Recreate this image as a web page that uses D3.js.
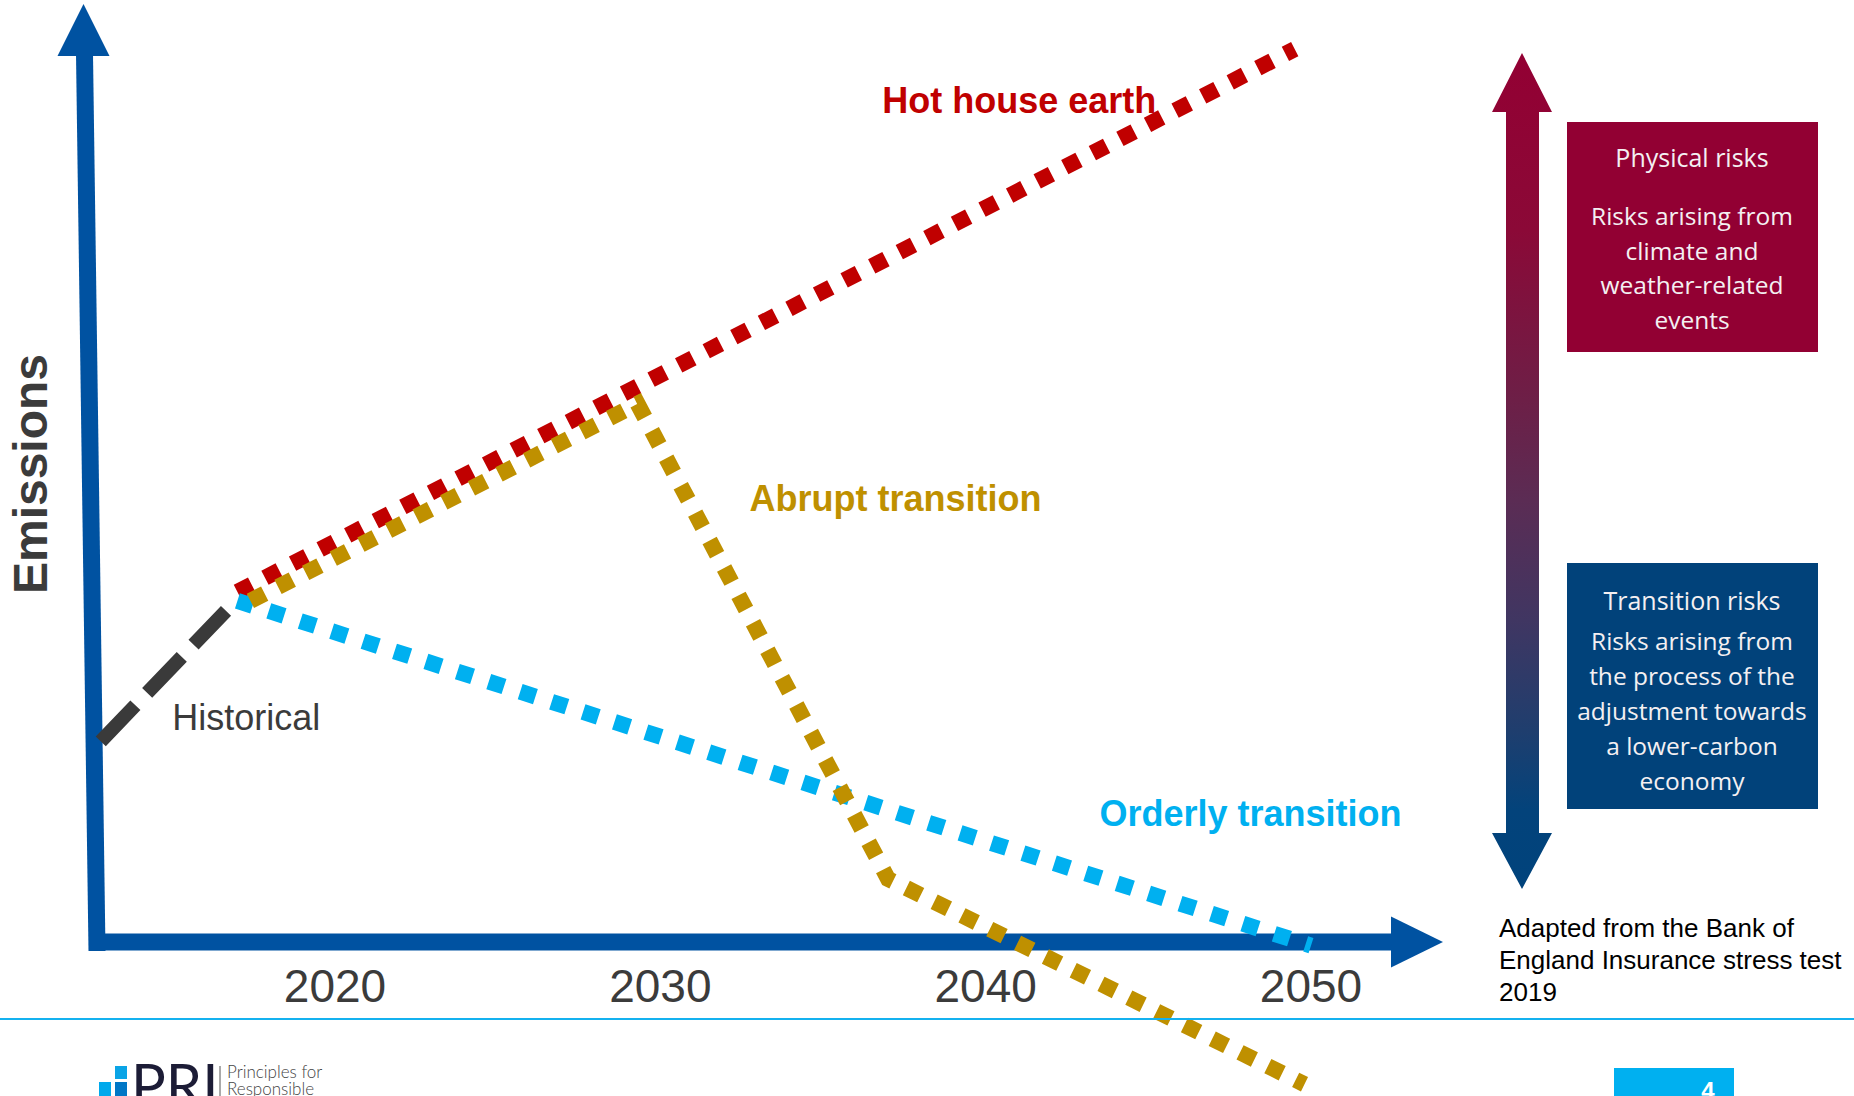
<!DOCTYPE html>
<html>
<head>
<meta charset="utf-8">
<script src="https://cdn.jsdelivr.net/npm/d3@7"></script>
<style>
  html, body { margin: 0; padding: 0; background: #ffffff; }
  svg { display: block; }
</style>
</head>
<body>
<svg id="chart" width="1854" height="1096"></svg>
<script>
// Emission pathways: [year, emissions index]
const historical = [[2012.8, 22.3], [2016.65, 36.8]];
const hotHouse   = [[2017.0, 38.9], [2049.5, 99.2]];
const abrupt     = [[2017.4, 37.9], [2029.3, 59.8], [2037.0, 7.0], [2049.8, -15.8]];
const orderly    = [[2017.0, 37.9], [2050.0, -0.4]];

const tickYears = [2020, 2030, 2040, 2050];

const seriesLabels = [
  { text: "Hot house earth",    year: 2036.82, value: 92.1, color: "#c00000", weight: "bold" },
  { text: "Abrupt transition",  year: 2032.74, value: 47.9, color: "#bf9000", weight: "bold" },
  { text: "Orderly transition", year: 2043.5,  value: 12.9, color: "#00b0f0", weight: "bold" },
  { text: "Historical",         year: 2015.0,  value: 23.6, color: "#3b3b3b", weight: "normal" }
];

const physicalLines   = ["Risks arising from", "climate and", "weather-related", "events"];
const transitionLines = ["Risks arising from", "the process of the", "adjustment towards", "a lower-carbon", "economy"];
const sourceLines     = ["Adapted from the Bank of", "England Insurance stress test", "2019"];

const svg = d3.select("#chart");

const x = d3.scaleLinear().domain([2020, 2050]).range([335, 1311]);
const y = d3.scaleLinear().domain([0, 100]).range([942, 42]);

const line = d3.line().x(d => x(d[0])).y(d => y(d[1]));

const AXIS = "#0052a1";
const SANS = "'Liberation Sans', Arial, sans-serif";

// ---- axes drawn as arrows ----
const axisG = svg.append("g");
const yBase = y(0);
// vertical axis (slightly leaning, as in the slide artwork)
axisG.append("line")
  .attr("x1", 97).attr("y1", yBase + 9)
  .attr("x2", 84.5).attr("y2", 54)
  .attr("stroke", AXIS).attr("stroke-width", 17);
axisG.append("path")
  .attr("d", "M83.5,4 L109.5,56 L57.5,56 Z")
  .attr("fill", AXIS);
// horizontal axis
axisG.append("line")
  .attr("x1", 89).attr("y1", yBase)
  .attr("x2", 1394).attr("y2", yBase)
  .attr("stroke", AXIS).attr("stroke-width", 17);
axisG.append("path")
  .attr("d", `M1443,${yBase} L1391,${yBase - 25.5} L1391,${yBase + 25.5} Z`)
  .attr("fill", AXIS);

// year labels
svg.append("g").selectAll("text")
  .data(tickYears)
  .join("text")
  .attr("x", d => x(d))
  .attr("y", 1002)
  .attr("text-anchor", "middle")
  .attr("font-family", SANS)
  .attr("font-size", 46)
  .attr("fill", "#3b3b3b")
  .text(d => d);

// y axis title
svg.append("text")
  .attr("transform", "translate(47,474) rotate(-90)")
  .attr("text-anchor", "middle")
  .attr("font-family", SANS)
  .attr("font-weight", "bold")
  .attr("font-size", 48)
  .attr("fill", "#3b3b3b")
  .text("Emissions");

// ---- pathways ----
const paths = svg.append("g").attr("fill", "none");
paths.append("path").datum(historical)
  .attr("d", line)
  .attr("stroke", "#3a3a3a").attr("stroke-width", 14)
  .attr("stroke-dasharray", "50 17");
paths.append("path").datum(hotHouse)
  .attr("d", line)
  .attr("stroke", "#c00000").attr("stroke-width", 16)
  .attr("stroke-dasharray", "16 15");
paths.append("path").datum(orderly)
  .attr("d", line)
  .attr("stroke", "#00b0f0").attr("stroke-width", 16)
  .attr("stroke-dasharray", "16 17");
paths.append("path").datum(abrupt)
  .attr("d", line)
  .attr("stroke", "#bf9000").attr("stroke-width", 16)
  .attr("stroke-dasharray", "16 15")
  .attr("stroke-linejoin", "miter");

// pathway labels
svg.append("g").selectAll("text")
  .data(seriesLabels)
  .join("text")
  .attr("x", d => x(d.year))
  .attr("y", d => y(d.value))
  .attr("font-family", SANS)
  .attr("font-weight", d => d.weight)
  .attr("font-size", 36)
  .attr("fill", d => d.color)
  .text(d => d.text);

// ---- risk arrow with gradient ----
const defs = svg.append("defs");
const grad = defs.append("linearGradient")
  .attr("id", "riskGrad")
  .attr("gradientUnits", "userSpaceOnUse")
  .attr("x1", 0).attr("y1", 53).attr("x2", 0).attr("y2", 889);
[
  [53, "#930033"], [230, "#8b0937"], [400, "#6d1f47"], [500, "#5b2c54"],
  [620, "#403662"], [730, "#1f3e6e"], [810, "#03437b"], [889, "#00437c"]
].forEach(([py, c]) => {
  grad.append("stop").attr("offset", ((py - 53) / (889 - 53) * 100) + "%").attr("stop-color", c);
});
svg.append("path")
  .attr("d", "M1522,53 L1552,112 L1539,112 L1539,833 L1552,833 L1522,889 L1492,833 L1506,833 L1506,112 L1492,112 Z")
  .attr("fill", "url(#riskGrad)");

// ---- risk boxes ----
const BOX_FONT = "'Open Sans', 'Noto Sans', sans-serif";
function riskBox(top, height, fill, title, titleBase, lines, firstBase, step) {
  const g = svg.append("g");
  g.append("rect").attr("x", 1567).attr("y", top)
    .attr("width", 251).attr("height", height).attr("fill", fill);
  g.append("text").attr("x", 1692).attr("y", titleBase)
    .attr("text-anchor", "middle").attr("font-family", BOX_FONT)
    .attr("font-size", 25).attr("fill", "#f4f0f2").text(title);
  g.selectAll("text.body").data(lines).join("text").attr("class", "body")
    .attr("x", 1692).attr("y", (d, i) => firstBase + i * step)
    .attr("text-anchor", "middle").attr("font-family", BOX_FONT)
    .attr("font-size", 24.5).attr("fill", "#f4f0f2").text(d => d);
}
riskBox(122, 230, "#920033", "Physical risks", 167, physicalLines, 225, 34.5);
riskBox(563, 246, "#01427a", "Transition risks", 610, transitionLines, 650, 35);

// source note
svg.append("g").selectAll("text")
  .data(sourceLines)
  .join("text")
  .attr("x", 1499)
  .attr("y", (d, i) => 937 + i * 32)
  .attr("font-family", SANS)
  .attr("font-size", 26)
  .attr("fill", "#000000")
  .text(d => d);

// ---- footer ----
svg.append("line")
  .attr("x1", 0).attr("x2", 1854).attr("y1", 1019).attr("y2", 1019)
  .attr("stroke", "#14b1ef").attr("stroke-width", 2);

const logo = svg.append("g");
logo.append("rect").attr("x", 115).attr("y", 1066).attr("width", 12).attr("height", 13).attr("fill", "#0aa4e6");
logo.append("rect").attr("x", 99).attr("y", 1082).attr("width", 12).attr("height", 14).attr("fill", "#00a9ec");
logo.append("rect").attr("x", 115).attr("y", 1082).attr("width", 12).attr("height", 14).attr("fill", "#0077c6");
logo.append("text").attr("x", 131).attr("y", 1106)
  .attr("font-family", "Lato, 'Open Sans', sans-serif").attr("font-size", 58)
  .attr("fill", "#1c1c36").text("PRI");
logo.append("line").attr("x1", 220).attr("x2", 220).attr("y1", 1066).attr("y2", 1096)
  .attr("stroke", "#555").attr("stroke-width", 1);
logo.append("text").attr("x", 227).attr("y", 1078)
  .attr("font-family", "Lato, 'Open Sans', sans-serif").attr("font-weight", 300).attr("font-size", 17)
  .attr("fill", "#444").text("Principles for");
logo.append("text").attr("x", 227).attr("y", 1095)
  .attr("font-family", "Lato, 'Open Sans', sans-serif").attr("font-weight", 300).attr("font-size", 17)
  .attr("fill", "#444").text("Responsible");

svg.append("rect").attr("x", 1614).attr("y", 1068).attr("width", 120).attr("height", 28).attr("fill", "#00b0f0");
svg.append("text").attr("x", 1708).attr("y", 1099).attr("text-anchor", "middle")
  .attr("font-family", SANS).attr("font-weight", "bold").attr("font-size", 24)
  .attr("fill", "#ffffff").text("4");
</script>
</body>
</html>
